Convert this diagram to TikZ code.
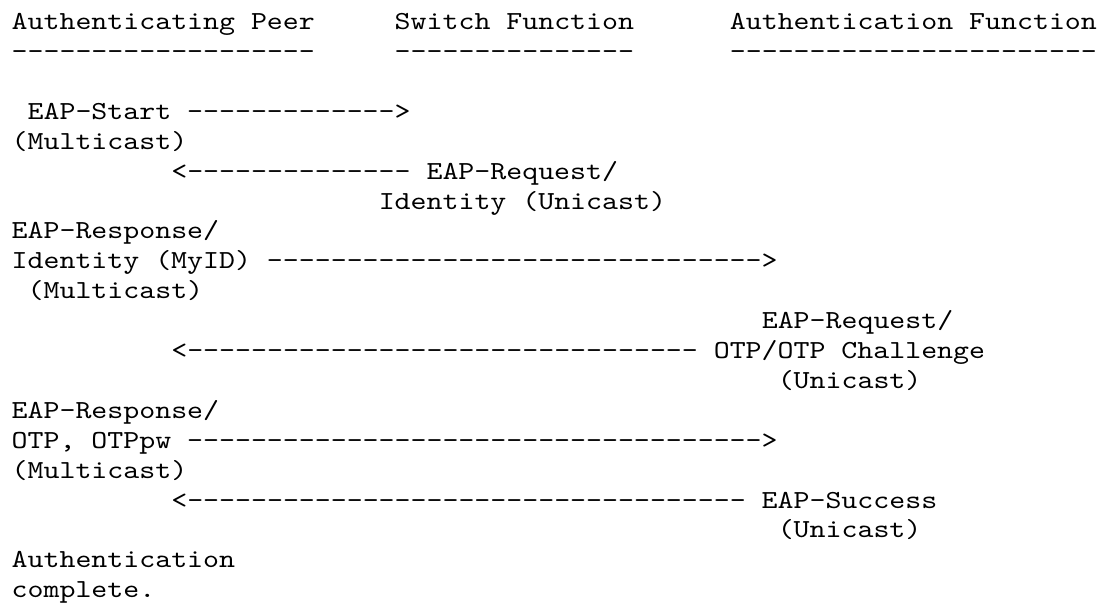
\documentclass[tikz,border=0pt]{standalone}
\usepackage{fontspec}
\setmonofont{lmmono10-regular.otf}[FakeStretch=1.169]

\begin{document}
\begin{tikzpicture}[x=15.96pt,y=29.9pt]
    \useasboundingbox (-11.5pt,29.6pt) rectangle (1090.5pt,-578.4pt);
    \begin{scope}[every node/.style={anchor=base west,inner sep=0pt,
        font=\ttfamily\fontsize{26pt}{29.9pt}\selectfont}]
      % column heads
      \node (peer)    at (0,0)  {Authenticating Peer};
      \node (switch)  at (24,0) {Switch Function};
      \node (auth)    at (45,0) {Authentication Function};
      \node (peerul)   at (0,-1)  {-------------------};
      \node (switchul) at (24,-1) {---------------};
      \node (authul)   at (45,-1) {-----------------------};
      % start
      \node (start)   at (1,-3)  {EAP-Start ------------->};
      \node (startm)  at (0,-4)  {(Multicast)};
      \node (reqid)   at (10,-5) {<-------------- EAP-Request/};
      \node (reqidu)  at (23,-6) {Identity (Unicast)};
      % identity
      \node (respid)  at (0,-7)  {EAP-Response/};
      \node (myid)    at (0,-8)  {Identity (MyID) ------------------------------->};
      \node (myidm)   at (1,-9)  {(Multicast)};
      % challenge
      \node (reqotp)  at (47,-10) {EAP-Request/};
      \node (chall)   at (10,-11) {<-------------------------------- OTP/OTP Challenge};
      \node (challu)  at (48,-12) {(Unicast)};
      \node (respotp) at (0,-13)  {EAP-Response/};
      \node (otppw)   at (0,-14)  {OTP, OTPpw ------------------------------------>};
      \node (otppwm)  at (0,-15)  {(Multicast)};
      % success
      \node (succ)    at (10,-16) {<----------------------------------- EAP-Success};
      \node (succu)   at (48,-17) {(Unicast)};
      \node (done)    at (0,-18)  {Authentication};
      \node (donel)   at (0,-19)  {complete.};
    \end{scope}
  \end{tikzpicture}
\end{document}
